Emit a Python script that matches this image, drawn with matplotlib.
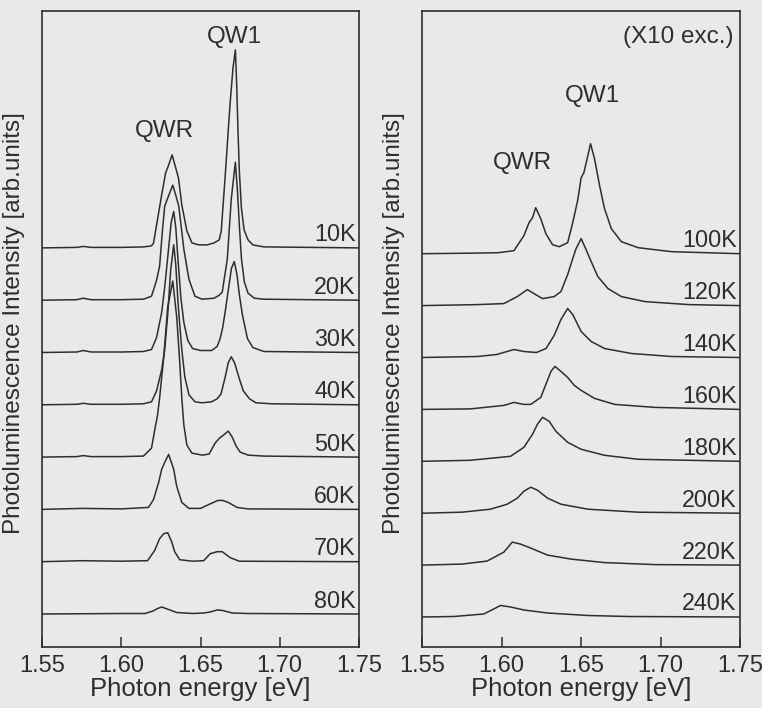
import numpy as np
import matplotlib
matplotlib.use("Agg")
import matplotlib.pyplot as plt

plt.rcParams['font.family'] = ['Liberation Sans', 'DejaVu Sans']

# ---- left panel: low excitation, 10K .. 80K (energy [eV], intensity [arb.])
left_temps = ['10K', '20K', '30K', '40K', '50K', '60K', '70K', '80K']

e_10K = [1.550, 1.572, 1.576, 1.581, 1.600, 1.614, 1.6191, 1.6204, 1.6223, 1.6255, 1.6280, 1.6297,
         1.6321, 1.6335, 1.6361, 1.6382, 1.6414, 1.6446, 1.6490, 1.6541, 1.6586, 1.6618, 1.6631,
         1.6658, 1.6686, 1.6705, 1.6720, 1.6728, 1.6736, 1.6745, 1.6758, 1.6775, 1.6800, 1.6830,
         1.6900, 1.750]
i_10K = [0, 0.5, 1.5, 0.5, 0.5, 1, 2, 5, 23, 53, 75, 82, 93, 85, 70, 43, 17, 5, 3, 3, 5, 8, 17,
         77, 143, 180, 198, 165, 120, 77, 40, 18, 8, 3, 1, 0]

e_20K = [1.550, 1.572, 1.576, 1.581, 1.600, 1.614, 1.6191, 1.6223, 1.6242, 1.6260, 1.6274, 1.6300,
         1.6325, 1.6344, 1.6363, 1.6395, 1.6427, 1.6465, 1.6510, 1.6586, 1.6618, 1.6637, 1.6669,
         1.6694, 1.6720, 1.6733, 1.6745, 1.6758, 1.6777, 1.6800, 1.6840, 1.6900, 1.750]
i_20K = [0, 0.5, 2, 0.5, 0.5, 1, 4, 20, 34, 70, 94, 105, 115, 105, 94, 51, 21, 4, 1, 2, 5, 8, 41,
         101, 138, 110, 75, 42, 18, 7, 2, 1, 0]

e_30K = [1.550, 1.572, 1.576, 1.581, 1.600, 1.614, 1.6191, 1.6223, 1.6255, 1.6274, 1.6293, 1.6315,
         1.6331, 1.6344, 1.6357, 1.6376, 1.6395, 1.6420, 1.6450, 1.6500, 1.6570, 1.6605, 1.6624,
         1.6640, 1.6656, 1.6675, 1.6695, 1.6713, 1.6730, 1.6745, 1.6764, 1.6796, 1.6830, 1.6900,
         1.750]
i_30K = [0, 0.5, 2, 0.5, 0.5, 1, 3, 15, 40, 65, 95, 130, 141, 125, 95, 55, 30, 12, 4, 2, 2, 6, 14,
         25, 41, 62, 84, 91, 78, 58, 38, 14, 5, 1, 0]

e_40K = [1.550, 1.572, 1.576, 1.581, 1.600, 1.614, 1.6191, 1.6223, 1.6255, 1.6274, 1.6293, 1.6312,
         1.6331, 1.6344, 1.6357, 1.6369, 1.6382, 1.6401, 1.6427, 1.6465, 1.6510, 1.6570, 1.6605,
         1.6630, 1.6656, 1.6675, 1.6694, 1.6715, 1.6745, 1.6770, 1.6809, 1.6850, 1.6950, 1.750]
i_40K = [0, 0.5, 1.5, 0.5, 0.5, 1, 3, 14, 35, 55, 90, 135, 160, 140, 105, 80, 55, 28, 10, 3, 2, 3,
         6, 11, 28, 42, 48, 42, 26, 14, 6, 2, 1, 0]

e_50K = [1.550, 1.572, 1.576, 1.581, 1.600, 1.614, 1.6191, 1.6210, 1.6229, 1.6242, 1.6268, 1.6293,
         1.6325, 1.6350, 1.6369, 1.6382, 1.6395, 1.6414, 1.6446, 1.6510, 1.6554, 1.6592, 1.6620,
         1.6645, 1.6675, 1.6700, 1.6725, 1.6750, 1.6800, 1.6900, 1.750]
i_50K = [0, 0.5, 1.5, 0.5, 0.5, 1, 9, 26, 42, 59, 100, 150, 176, 140, 95, 59, 32, 12, 4, 2, 3, 14,
         19, 22, 26, 20, 11, 5, 2, 1, 0]

e_60K = [1.550, 1.575, 1.600, 1.6172, 1.6204, 1.6236, 1.6255, 1.6274, 1.6299, 1.6331, 1.6350,
         1.6382, 1.6427, 1.6500, 1.6554, 1.6610, 1.6640, 1.6675, 1.6730, 1.6800, 1.750]
i_60K = [0, 1, 0.5, 2, 10, 27, 40, 47, 55, 40, 23, 7, 1, 1, 5, 9, 9, 7, 2, 0.5, 0]

e_70K = [1.550, 1.575, 1.600, 1.6166, 1.6210, 1.6242, 1.6268, 1.6293, 1.6318, 1.6337, 1.6369,
         1.6450, 1.6520, 1.6561, 1.6605, 1.6637, 1.6688, 1.6745, 1.750]
i_70K = [0, 1, 0.5, 1, 11, 23, 28, 29, 20, 10, 2, 0.5, 1, 8, 10, 10, 4, 0.5, 0]

e_80K = [1.550, 1.600, 1.6150, 1.6200, 1.6230, 1.6255, 1.6290, 1.6350, 1.6450, 1.6520, 1.6560,
         1.6605, 1.6640, 1.6700, 1.6800, 1.750]
i_80K = [0, 0.5, 0.5, 3, 5.5, 7, 5, 1.5, 0.5, 1, 2, 4, 3.5, 1, 0.5, 0]

# ---- right panel: x10 excitation, 100K .. 240K
right_temps = ['100K', '120K', '140K', '160K', '180K', '200K', '220K', '240K']

e_100K = [1.550, 1.580, 1.598, 1.6078, 1.6141, 1.6173, 1.6195, 1.6215, 1.6247, 1.6279, 1.6321,
          1.6363, 1.6416, 1.6448, 1.6480, 1.6501, 1.6518, 1.6543, 1.6560, 1.6585, 1.6617, 1.6648,
          1.6691, 1.6754, 1.6860, 1.7071, 1.750]
i_100K = [0, 0.5, 1, 3, 18, 31, 36, 46, 35, 20, 9, 7, 11, 31, 54, 76, 81, 98, 110, 95, 68, 45, 25,
          12, 6, 2, 0]

e_120K = [1.550, 1.585, 1.6015, 1.6099, 1.6163, 1.6215, 1.6258, 1.6331, 1.6374, 1.6416, 1.6448,
          1.6469, 1.6501, 1.6532, 1.6564, 1.6606, 1.6670, 1.6754, 1.6902, 1.7177, 1.750]
i_120K = [0, 1, 2, 9, 16, 11, 7, 9, 14, 31, 47, 57, 67, 56, 44, 29, 17, 9, 4, 1, 0]

e_140K = [1.550, 1.585, 1.597, 1.6078, 1.6140, 1.6220, 1.6280, 1.6331, 1.6374, 1.6416, 1.6448,
          1.6501, 1.6564, 1.6648, 1.6818, 1.7071, 1.750]
i_140K = [0, 1, 3, 8, 6, 5, 9, 22, 38, 49, 43, 26, 16, 9, 4, 1, 0]

e_160K = [1.550, 1.5804, 1.6015, 1.6078, 1.6140, 1.6184, 1.6247, 1.6279, 1.6311, 1.6336, 1.6374,
          1.6416, 1.6458, 1.6501, 1.6585, 1.6712, 1.6965, 1.750]
i_160K = [0, 0.5, 4, 7, 5, 5, 12, 25, 38, 43, 38, 32, 24, 19, 11, 5, 2, 0]

e_180K = [1.550, 1.580, 1.5930, 1.6057, 1.6141, 1.6195, 1.6226, 1.6258, 1.6300, 1.6342, 1.6416,
          1.6501, 1.6648, 1.6860, 1.750]
i_180K = [0, 1, 3, 5, 14, 27, 37, 44, 40, 30, 19, 12, 6, 2, 0]

e_200K = [1.550, 1.575, 1.5930, 1.6036, 1.6099, 1.6141, 1.6184, 1.6226, 1.6290, 1.6374, 1.6543,
          1.6860, 1.750]
i_200K = [0, 1, 4, 9, 15, 22, 26, 23, 15, 9, 4, 1, 0]

e_220K = [1.550, 1.575, 1.5909, 1.6015, 1.6068, 1.6120, 1.6184, 1.6290, 1.6437, 1.6648, 1.6965,
          1.750]
i_220K = [0, 1, 4, 13, 23, 21, 17, 10, 6, 2.5, 0.5, 0]

e_240K = [1.550, 1.570, 1.5888, 1.5951, 1.5994, 1.6057, 1.6141, 1.6290, 1.6543, 1.680, 1.750]
i_240K = [0, 0.5, 3, 8, 11.5, 10, 7, 4, 1.5, 0.5, 0]

xticks = [1.55, 1.60, 1.65, 1.70, 1.75]

left_curves = [(e_10K, i_10K), (e_20K, i_20K), (e_30K, i_30K), (e_40K, i_40K),
               (e_50K, i_50K), (e_60K, i_60K), (e_70K, i_70K), (e_80K, i_80K)]
right_curves = [(e_100K, i_100K), (e_120K, i_120K), (e_140K, i_140K), (e_160K, i_160K),
                (e_180K, i_180K), (e_200K, i_200K), (e_220K, i_220K), (e_240K, i_240K)]

ink = '#2e2e2e'
bg = '#e9e9e7'

fig = plt.figure(figsize=(7.62, 7.08), dpi=100, facecolor=bg)
ax1 = fig.add_axes([42 / 762, 61 / 708, 317 / 762, 636 / 708])
ax2 = fig.add_axes([422 / 762, 61 / 708, 318 / 762, 636 / 708])


def draw_panel(ax, curves, temps, base, step):
    n = len(curves)
    for k, (e, inten) in enumerate(curves):
        # top curve (lowest temperature) sits highest
        off = base + step * (n - 1 - k)
        ax.plot(e, np.asarray(inten) + off, color=ink, lw=1.1)
        ax.text(1.7478, off + 13, temps[k], ha='right', va='center',
                fontsize=16.8, color=ink)
    ax.set_xlim(1.55, 1.75)
    ax.set_ylim(0, 636)
    ax.set_facecolor(bg)
    ax.set_xticks(xticks)
    ax.set_xticklabels(['%.2f' % v for v in xticks])
    ax.set_yticks([])
    ax.tick_params(axis='x', direction='in', length=7, width=1.1, pad=6,
                   labelsize=17, colors=ink)
    for s in ax.spines.values():
        s.set_color(ink)
        s.set_linewidth(1.2)
    ax.set_xlabel('Photon energy [eV]', fontsize=18.5, color=ink, labelpad=0)
    ax.set_ylabel('Photoluminescence Intensity [arb.units]', fontsize=17.5, color=ink)
    ax.yaxis.set_label_coords(-0.055, 0.51)


draw_panel(ax1, left_curves, left_temps, 33, 52.3)
draw_panel(ax2, right_curves, right_temps, 30, 51.9)

ax1.text(1.6711, 610, 'QW1', ha='center', va='center', fontsize=17.5, color=ink)
ax1.text(1.6274, 516, 'QWR', ha='center', va='center', fontsize=17.5, color=ink)
ax2.text(1.6570, 551, 'QW1', ha='center', va='center', fontsize=17.5, color=ink)
ax2.text(1.6133, 484, 'QWR', ha='center', va='center', fontsize=17.5, color=ink)
ax2.text(1.7458, 610, '(X10 exc.)', ha='right', va='center', fontsize=17.5, color=ink)

fig.savefig('out.png', dpi=100, facecolor=bg)
